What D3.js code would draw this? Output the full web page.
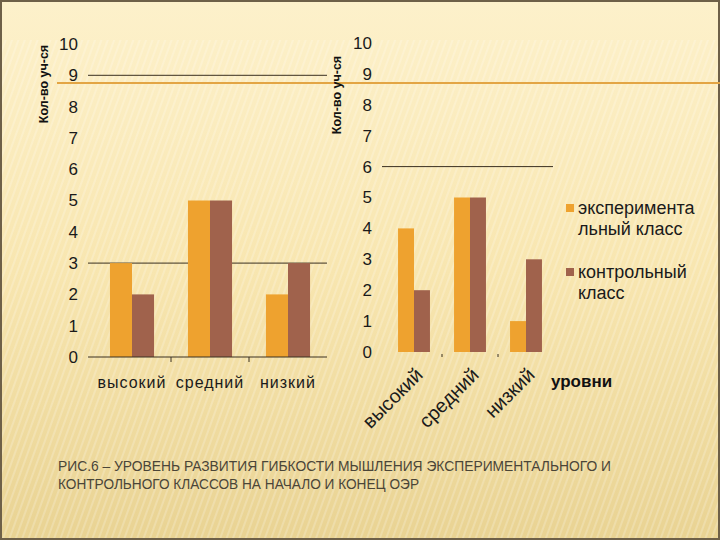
<!DOCTYPE html>
<html><head><meta charset="utf-8">
<script src="https://cdn.jsdelivr.net/npm/d3@7"></script>
<style>html,body{margin:0;padding:0;background:#fff;}svg{display:block;}</style>
</head><body>
<script>
const categories = ["высокий", "средний", "низкий"];
const seriesNames = ["экспериментальный класс", "контрольный класс"];
const startExp = [3, 5, 2];
const startCtrl = [2, 5, 3];
const endExp = [4, 5, 1];
const endCtrl = [2, 5, 3];
const yTicks = [0,1,2,3,4,5,6,7,8,9,10];
const yTitle = "Кол-во уч-ся";
const xTitle = "уровни";
const legendLines = [["эксперимента", "льный класс"], ["контрольный", "класс"]];
const captionLines = ["РИС.6 – УРОВЕНЬ РАЗВИТИЯ ГИБКОСТИ МЫШЛЕНИЯ ЭКСПЕРИМЕНТАЛЬНОГО И", "КОНТРОЛЬНОГО КЛАССОВ НА НАЧАЛО И КОНЕЦ ОЭР"];

const colors = ["#eea22f", "#a0624c"];
const W = 720, H = 540;
const svg = d3.select("body").append("svg").attr("width", W).attr("height", H);
const defs = svg.append("defs");
const grad = defs.append("linearGradient").attr("id","bg").attr("x1",0).attr("y1",0).attr("x2",0).attr("y2",1);
grad.append("stop").attr("offset","0").attr("stop-color","#fdf1cb");
grad.append("stop").attr("offset","0.5").attr("stop-color","#f8e6b0");
grad.append("stop").attr("offset","1").attr("stop-color","#e9d393");
const pat = defs.append("pattern").attr("id","stripes").attr("width",6).attr("height",6)
  .attr("patternUnits","userSpaceOnUse").attr("patternTransform","rotate(20)");
pat.append("rect").attr("width",2).attr("height",6).attr("fill","#fff").attr("opacity",0.2);
svg.append("rect").attr("width",W).attr("height",H).attr("fill","url(#bg)");
svg.append("rect").attr("x",0).attr("y",40).attr("width",W).attr("height",H-40).attr("fill","url(#stripes)");
svg.append("rect").attr("x",1).attr("y",1).attr("width",W-2).attr("height",H-2)
  .attr("fill","none").attr("stroke","#6e6048").attr("stroke-width",2);

svg.append("line").attr("x1",57).attr("x2",720).attr("y1",83).attr("y2",83)
  .attr("stroke","#e3a544").attr("stroke-width",2);

function drawChart(opt) {
  const y = d3.scaleLinear().domain([0,10]).range([opt.y0, opt.y10]);
  const x0 = d3.scaleBand().domain(categories).range(opt.xr);
  const bw = x0.bandwidth();
  const gw = bw * opt.gf;
  const x1 = d3.scaleBand().domain([0,1]).range([(bw-gw)/2, (bw+gw)/2]);
  const g = svg.append("g");
  opt.grid.forEach(v => {
    g.append("line").attr("x1", opt.gx[0]).attr("x2", opt.gx[1])
      .attr("y1", y(v)).attr("y2", y(v)).attr("stroke","#3a3020").attr("stroke-width",1);
  });
  const ya = d3.axisLeft(y).tickValues(yTicks).tickSize(0).tickPadding(0);
  const yg = g.append("g").attr("transform",`translate(${opt.ylx},0)`).call(ya);
  yg.select(".domain").remove();
  yg.selectAll("text").attr("font-family","Liberation Sans, Arial, sans-serif")
    .attr("font-size",17).attr("fill","#1a1a1a");
  const data = categories.map((c,i)=>({c, v:[opt.exp[i], opt.ctrl[i]]}));
  const grp = g.selectAll(".grp").data(data).join("g")
    .attr("transform", d=>`translate(${x0(d.c)},0)`);
  grp.selectAll("rect").data(d=>d.v.map((v,k)=>({v,k}))).join("rect")
    .attr("x", d=>x1(d.k)).attr("width", x1.bandwidth())
    .attr("y", d=>y(d.v)).attr("height", d=>y(0)-y(d.v))
    .attr("fill", d=>colors[d.k]);
  if (opt.baseline) {
    g.append("line").attr("x1",opt.gx[0]).attr("x2",opt.gx[1]).attr("y1",y(0)).attr("y2",y(0))
      .attr("stroke","#3a3020").attr("stroke-width",1);
  }
  categories.slice(1).forEach(c=>{
    g.append("line").attr("x1",x0(c)).attr("x2",x0(c)).attr("y1",y(0)+ (opt.baseline?0:2)).attr("y2",y(0)+5)
      .attr("stroke","#3a3020").attr("stroke-width",1);
  });
  if (opt.rotate) {
    categories.forEach(c=>{
      g.append("text").attr("transform",`translate(${x0(c)+bw/2+10},${y(0)+24}) rotate(-45)`)
        .attr("text-anchor","end").attr("font-family","Liberation Sans, Arial, sans-serif")
        .attr("font-size",19.5).attr("fill","#1a1a1a").text(c);
    });
  } else {
    categories.forEach(c=>{
      g.append("text").attr("x", x0(c)+bw/2).attr("y", y(0)+31)
        .attr("text-anchor","middle").attr("font-family","Liberation Sans, Arial, sans-serif")
        .attr("font-size",16).attr("letter-spacing",1).attr("fill","#1a1a1a").text(c);
    });
  }
  g.append("text").attr("transform",`translate(${opt.tx},${opt.ty}) rotate(-90)`)
    .attr("text-anchor","middle").attr("dominant-baseline","middle")
    .attr("font-family","Liberation Sans, Arial, sans-serif").attr("font-weight","bold")
    .attr("font-size",12.5).attr("fill","#111").text(yTitle);
}

drawChart({exp:startExp, ctrl:startCtrl, y0:357, y10:44, xr:[93,327], gf:0.565,
  gx:[88,327], grid:[9,3], ylx:78, baseline:true, rotate:false, tx:45, ty:84});
drawChart({exp:endExp, ctrl:endCtrl, y0:352, y10:43, xr:[386,554], gf:0.57,
  gx:[382,553], grid:[6], ylx:372, baseline:false, rotate:true, tx:338, ty:95});

svg.append("text").attr("x",551).attr("y",387).attr("font-family","Liberation Sans, Arial, sans-serif")
  .attr("font-weight","bold").attr("font-size",17).attr("fill","#111").text(xTitle);

const lg = svg.append("g");
legendLines.forEach((lines,i)=>{
  const yTop = 204 + i*64;
  lg.append("rect").attr("x",566).attr("y",yTop).attr("width",8).attr("height",8).attr("fill",colors[i]);
  lines.forEach((t,j)=>{
    lg.append("text").attr("x",578).attr("y",yTop+10+j*21)
      .attr("font-family","Liberation Sans, Arial, sans-serif").attr("font-size",18)
      .attr("fill","#1a1a1a").text(t);
  });
});

const capLens = [553, 361];
captionLines.forEach((t,i)=>{
  svg.append("text").attr("x",58).attr("y",471+i*18)
    .attr("font-family","Liberation Sans Narrow, Arial Narrow, Liberation Sans, sans-serif")
    .attr("font-size",15).attr("fill","#4a4538")
    .attr("textLength",capLens[i]).attr("lengthAdjust","spacingAndGlyphs").text(t);
});
</script>
</body></html>
